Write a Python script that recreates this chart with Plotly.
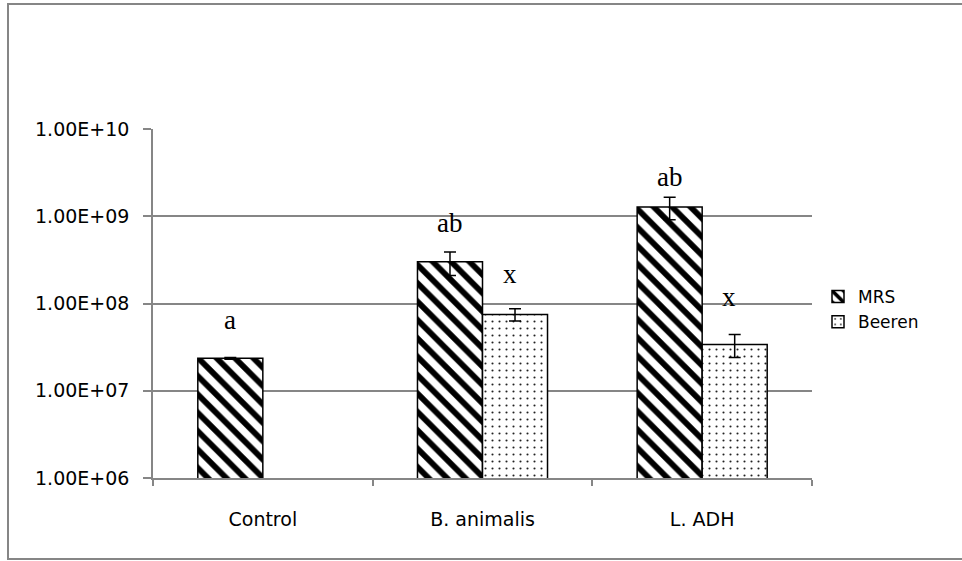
import math
import plotly.graph_objects as go

categories = ["Control", "B. animalis", "L. ADH"]
mrs_values = [2.35e7, 3.0e8, 1.28e9]
mrs_errors = [6e5, 0.9e8, 0.37e9]
beeren_values = [None, 7.5e7, 3.4e7]
beeren_errors = [None, 1.2e7, 1.0e7]

tick_vals = [1e6, 1e7, 1e8, 1e9, 1e10]
tick_text = ["1.00E+06", "1.00E+07", "1.00E+08", "1.00E+09", "1.00E+10"]

# significance letters: (category, series, text, y value)
letters = [
    ("Control", "MRS", "a", 6.5e7),
    ("B. animalis", "MRS", "ab", 8.4e8),
    ("B. animalis", "Beeren", "x", 2.2e8),
    ("L. ADH", "MRS", "ab", 2.8e9),
    ("L. ADH", "Beeren", "x", 1.18e8),
]

GRID = "#868686"
W, H = 962, 561
ML, MR, MT, MB = 153, 150, 129, 83
PW, PH = W - ML - MR, H - MT - MB

fig = go.Figure()
fig.add_trace(go.Bar(
    name="MRS", x=categories, y=mrs_values,
    marker=dict(color="white", line=dict(color="black", width=1.5),
                pattern=dict(shape="\\", fgcolor="black", bgcolor="white",
                             fgopacity=1, size=13, solidity=0.45)),
    error_y=dict(type="data", array=mrs_errors, color="black",
                 thickness=1.5, width=6),
))
fig.add_trace(go.Bar(
    name="Beeren", x=categories, y=beeren_values,
    marker=dict(color="white", line=dict(color="black", width=1.5),
                pattern=dict(shape=".", fgcolor="#222222", bgcolor="white",
                             fgopacity=1, size=7, solidity=0.07)),
    error_y=dict(type="data", array=beeren_errors, color="black",
                 thickness=1.5, width=6),
))

shift = {"MRS": -33, "Beeren": 27}
for cat, ser, txt, yv in letters:
    fig.add_annotation(x=cat, y=math.log10(yv), xref="x", yref="y",
                       text=txt, showarrow=False, xshift=shift[ser],
                       font=dict(family="Liberation Serif", size=27, color="black"))

# outer chart border
fig.add_shape(type="rect", xref="paper", yref="paper",
              x0=(8 - ML) / PW, x1=(970 - ML) / PW,
              y0=(H - MB - 559) / PH, y1=(H - MB - 4) / PH,
              line=dict(color=GRID, width=2), fillcolor="rgba(0,0,0,0)", layer="below")

fig.update_layout(
    width=W, height=H,
    margin=dict(l=ML, r=MR, t=MT, b=MB),
    paper_bgcolor="white", plot_bgcolor="white",
    barmode="group", bargap=0.408, bargroupgap=0,
    font=dict(family="DejaVu Sans", size=19, color="black"),
    showlegend=True,
    legend=dict(x=(818 - ML) / PW, xanchor="left", y=(H - MB - 279) / PH, yanchor="top",
                font=dict(family="DejaVu Sans", size=17, color="black"),
                bgcolor="rgba(0,0,0,0)", itemwidth=30),
    xaxis=dict(showline=True, linecolor=GRID, linewidth=1.5,
               ticks="outside", tickson="boundaries", ticklen=6,
               tickcolor=GRID, tickwidth=1.5, showgrid=False,
               ticklabelstandoff=23),
    yaxis=dict(type="log", range=[6, 10], tickvals=tick_vals, ticktext=tick_text,
               showline=True, linecolor=GRID, linewidth=1.5,
               ticks="outside", ticklen=8, tickcolor=GRID, tickwidth=1.5,
               showgrid=True, gridcolor=GRID, gridwidth=1.5, zeroline=False,
               ticklabelstandoff=10),
)

fig.write_html("out.html")
